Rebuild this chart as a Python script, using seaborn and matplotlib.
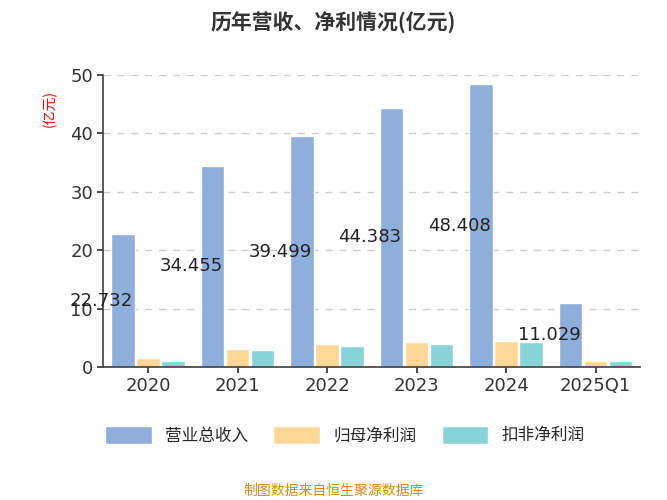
import matplotlib
matplotlib.use("Agg")
import matplotlib.pyplot as plt
import seaborn as sns
import pandas as pd
import numpy as np

years = ['2020', '2021', '2022', '2023', '2024', '2025Q1']
revenue = [22.732, 34.455, 39.499, 44.383, 48.408, 11.029]
net_profit = [1.6, 3.1, 4.0, 4.2, 4.4, 1.1]
deducted_profit = [1.1, 2.9, 3.6, 4.0, 4.2, 1.1]
series = ['营业总收入', '归母净利润', '扣非净利润']
colors = ['#8eaedc', '#fed797', '#86d4d8']

sns.set_theme(style='white')
plt.rcParams['font.family'] = ['Noto Sans CJK SC', 'DejaVu Sans']

df = pd.DataFrame({'year': years * 3,
                   'value': revenue + net_profit + deducted_profit,
                   'series': [s for s in series for _ in years]})

fig = plt.figure(figsize=(6.67, 5), dpi=100)
ax = fig.add_axes([0.155, 0.266, 0.805, 0.584])
sns.barplot(data=df, x='year', y='value', hue='series', palette=colors, saturation=1,
            width=0.84, gap=0.06, ax=ax, legend=True)

for i, v in enumerate(revenue):
    ax.text(i - 0.52, v / 2, f'{v:.3f}', ha='center', va='center', fontsize=13,
            color='#222222', family='DejaVu Sans')

ax.set_ylim(0, 50)
ax.set_yticks([0, 10, 20, 30, 40, 50])
ax.yaxis.grid(True, linestyle=(0, (5, 5)), color='#cccccc')
ax.set_axisbelow(True)
for s in ['top', 'right']:
    ax.spines[s].set_visible(False)
ax.spines['left'].set_color('#444444')
ax.spines['bottom'].set_color('#444444')
ax.tick_params(axis='both', labelsize=13, colors='#333333', length=4, direction='out', left=True, bottom=True)
for lab in ax.get_xticklabels() + ax.get_yticklabels():
    lab.set_family('DejaVu Sans')
ax.set_xlabel('')
ax.set_ylabel('')
ax.text(-0.1, 0.95, '(亿元)', transform=ax.transAxes, rotation=90, color='red',
        fontsize=10, ha='center', va='top')

ax.legend(loc='upper center', bbox_to_anchor=(0.45, -0.15), ncol=3, frameon=False,
          fontsize=12, handlelength=2.8, handleheight=1.3, columnspacing=1.5)
fig.text(0.5, 0.955, '历年营收、净利情况(亿元)', ha='center', va='center', fontsize=15, fontweight='bold', color='#333333')
fig.text(0.5, 0.018, '制图数据来自恒生聚源数据库', ha='center', va='center', fontsize=10, color='#d68a1c')
fig.savefig('out.png', dpi=100)
